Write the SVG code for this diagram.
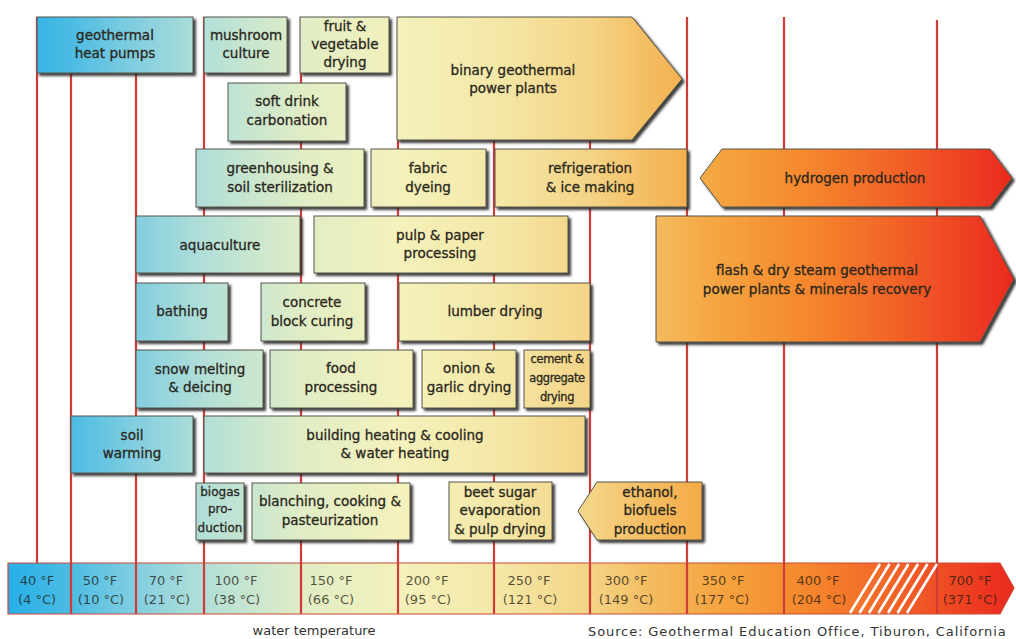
<svg xmlns="http://www.w3.org/2000/svg" width="1016" height="639" viewBox="0 0 1016 639">
<defs>
<linearGradient id="heat" gradientUnits="userSpaceOnUse" x1="8" y1="0" x2="1012" y2="0">
<stop offset="0" stop-color="#27afe8"/>
<stop offset="0.063" stop-color="#4cbce3"/>
<stop offset="0.127" stop-color="#82cee0"/>
<stop offset="0.195" stop-color="#b2dfd8"/>
<stop offset="0.292" stop-color="#e0edc6"/>
<stop offset="0.388" stop-color="#f4f1bc"/>
<stop offset="0.484" stop-color="#f4e8a8"/>
<stop offset="0.580" stop-color="#f4d486"/>
<stop offset="0.640" stop-color="#f4bc60"/>
<stop offset="0.709" stop-color="#f5a440"/>
<stop offset="0.789" stop-color="#f58a2e"/>
<stop offset="0.888" stop-color="#f26128"/>
<stop offset="1" stop-color="#ea2a1e"/>
</linearGradient>
<filter id="sh" x="-5%" y="-5%" width="115%" height="125%">
<feDropShadow dx="2.5" dy="2.5" stdDeviation="0.8" flood-color="#2b2b26" flood-opacity="0.9"/>
</filter>
</defs>
<style>
.box{fill:url(#heat);stroke:#55554a;stroke-width:1;filter:url(#sh);}
.t{font-family:"DejaVu Sans",sans-serif;font-size:13.5px;fill:#2a271c;stroke:#2a271c;stroke-width:0.3;text-anchor:middle;}
.s{font-size:12px;}
.xs{font-size:11.5px;letter-spacing:-0.4px;}
.vl{stroke:#cf3c38;stroke-width:2.2;fill:none;}
.bl{font-family:"DejaVu Sans",sans-serif;font-size:13px;fill:#1e1a10;fill-opacity:0.75;text-anchor:middle;}
.cap{font-family:"DejaVu Sans",sans-serif;font-size:13px;fill:#333;}
.hatch{stroke:#ffffff;stroke-width:2.6;}
</style>
<rect width="1016" height="639" fill="#ffffff"/>

<g id="temperature-lines">
<line class="vl" x1="37" y1="17" x2="37" y2="563"/>
<line class="vl" x1="71" y1="17" x2="71" y2="614"/>
<line class="vl" x1="136" y1="17" x2="136" y2="614"/>
<line class="vl" x1="204" y1="17" x2="204" y2="614"/>
<line class="vl" x1="301" y1="17" x2="301" y2="614"/>
<line class="vl" x1="398" y1="17" x2="398" y2="614"/>
<line class="vl" x1="494" y1="17" x2="494" y2="614"/>
<line class="vl" x1="590" y1="17" x2="590" y2="614"/>
<line class="vl" x1="687" y1="17" x2="687" y2="614"/>
<line class="vl" x1="784" y1="17" x2="784" y2="614"/>
<line class="vl" x1="937" y1="20" x2="937" y2="614"/>
</g>

<g id="temperature-bar">
<polygon points="8,563 1000,563 1014,588 1000,614 8,614" fill="url(#heat)" stroke="#cc4a36" stroke-width="1.2"/>
<line class="vl" x1="71" y1="563" x2="71" y2="614"/>
<line class="vl" x1="136" y1="563" x2="136" y2="614"/>
<line class="vl" x1="204" y1="563" x2="204" y2="614"/>
<line class="vl" x1="301" y1="563" x2="301" y2="614"/>
<line class="vl" x1="398" y1="563" x2="398" y2="614"/>
<line class="vl" x1="494" y1="563" x2="494" y2="614"/>
<line class="vl" x1="590" y1="563" x2="590" y2="614"/>
<line class="vl" x1="687" y1="563" x2="687" y2="614"/>
<line class="vl" x1="784" y1="563" x2="784" y2="614"/>
<line class="vl" x1="937" y1="563" x2="937" y2="614"/>
<g class="hatch">
<line x1="850" y1="613" x2="880" y2="564"/>
<line x1="859.5" y1="613" x2="889.5" y2="564"/>
<line x1="869" y1="613" x2="899" y2="564"/>
<line x1="878.5" y1="613" x2="908.5" y2="564"/>
<line x1="888" y1="613" x2="918" y2="564"/>
<line x1="897.5" y1="613" x2="927.5" y2="564"/>
<line x1="907" y1="613" x2="937" y2="564"/>
</g>
<text class="bl" x="37" y="585">40 °F</text><text class="bl" x="37" y="604">(4 °C)</text>
<text class="bl" x="100" y="585">50 °F</text><text class="bl" x="101" y="604">(10 °C)</text>
<text class="bl" x="166" y="585">70 °F</text><text class="bl" x="167" y="604">(21 °C)</text>
<text class="bl" x="236" y="585">100 °F</text><text class="bl" x="237" y="604">(38 °C)</text>
<text class="bl" x="331" y="585">150 °F</text><text class="bl" x="331" y="604">(66 °C)</text>
<text class="bl" x="427" y="585">200 °F</text><text class="bl" x="428" y="604">(95 °C)</text>
<text class="bl" x="529" y="585">250 °F</text><text class="bl" x="530" y="604">(121 °C)</text>
<text class="bl" x="626" y="585">300 °F</text><text class="bl" x="626" y="604">(149 °C)</text>
<text class="bl" x="723" y="585">350 °F</text><text class="bl" x="722" y="604">(177 °C)</text>
<text class="bl" x="818" y="585">400 °F</text><text class="bl" x="819" y="604">(204 °C)</text>
<text class="bl" x="970" y="585">700 °F</text><text class="bl" x="970" y="604">(371 °C)</text>
</g>

<g id="geothermal-heat-pumps"><rect class="box" x="37" y="17" width="156" height="56"/>
<text class="t" x="115" y="40">geothermal</text><text class="t" x="115" y="58">heat pumps</text></g>

<g id="mushroom-culture"><rect class="box" x="204" y="17" width="83" height="56"/>
<text class="t" x="246" y="40">mushroom</text><text class="t" x="246" y="58">culture</text></g>

<g id="fruit-vegetable-drying"><rect class="box" x="300" y="17" width="89" height="56"/>
<text class="t" x="345" y="31">fruit &amp;</text><text class="t" x="345" y="49">vegetable</text><text class="t" x="345" y="67">drying</text></g>

<g id="binary-power-plants"><polygon class="box" points="397,17 632,17 682,79 632,140 397,140"/>
<text class="t" x="513" y="75">binary geothermal</text><text class="t" x="513" y="93">power plants</text></g>

<g id="soft-drink-carbonation"><rect class="box" x="228" y="83" width="118" height="58"/>
<text class="t" x="287" y="106">soft drink</text><text class="t" x="287" y="125">carbonation</text></g>

<g id="greenhousing"><rect class="box" x="196" y="149" width="168" height="58"/>
<text class="t" x="280" y="173">greenhousing &amp;</text><text class="t" x="280" y="192">soil sterilization</text></g>

<g id="fabric-dyeing"><rect class="box" x="371" y="149" width="115" height="58"/>
<text class="t" x="428" y="173">fabric</text><text class="t" x="428" y="192">dyeing</text></g>

<g id="refrigeration"><rect class="box" x="495" y="149" width="192" height="58"/>
<text class="t" x="590" y="173">refrigeration</text><text class="t" x="590" y="192">&amp; ice making</text></g>

<g id="hydrogen-production"><polygon class="box" points="722,149 990,149 1012,178 990,207 722,207 700,178"/>
<text class="t" x="855" y="183">hydrogen production</text></g>

<g id="aquaculture"><rect class="box" x="136" y="216" width="164" height="57"/>
<text class="t" x="220" y="250">aquaculture</text></g>

<g id="pulp-paper"><rect class="box" x="314" y="216" width="254" height="57"/>
<text class="t" x="440" y="240">pulp &amp; paper</text><text class="t" x="440" y="258">processing</text></g>

<g id="flash-dry-steam"><polygon class="box" points="656,216 980,216 1014,279 980,342 656,342"/>
<text class="t" x="817" y="275">flash &amp; dry steam geothermal</text><text class="t" x="817" y="294">power plants &amp; minerals recovery</text></g>

<g id="bathing"><rect class="box" x="136" y="283" width="92" height="58"/>
<text class="t" x="182" y="316">bathing</text></g>

<g id="concrete-block-curing"><rect class="box" x="261" y="283" width="104" height="58"/>
<text class="t" x="312" y="307">concrete</text><text class="t" x="312" y="326">block curing</text></g>

<g id="lumber-drying"><rect class="box" x="399" y="283" width="191" height="58"/>
<text class="t" x="495" y="316">lumber drying</text></g>

<g id="snow-melting"><rect class="box" x="136" y="350" width="127" height="58"/>
<text class="t" x="200" y="374">snow melting</text><text class="t" x="200" y="392">&amp; deicing</text></g>

<g id="food-processing"><rect class="box" x="270" y="350" width="143" height="58"/>
<text class="t" x="341" y="373">food</text><text class="t" x="341" y="392">processing</text></g>

<g id="onion-garlic-drying"><rect class="box" x="422" y="350" width="94" height="58"/>
<text class="t" x="469" y="373">onion &amp;</text><text class="t" x="469" y="392">garlic drying</text></g>

<g id="cement-aggregate-drying"><rect class="box" x="524" y="350" width="66" height="58"/>
<text class="t xs" x="557" y="363">cement &amp;</text><text class="t xs" x="557" y="382">aggregate</text><text class="t xs" x="557" y="401">drying</text></g>

<g id="soil-warming"><rect class="box" x="71" y="416" width="122" height="57"/>
<text class="t" x="132" y="440">soil</text><text class="t" x="132" y="458">warming</text></g>

<g id="building-heating"><rect class="box" x="204" y="416" width="381" height="57"/>
<text class="t" x="395" y="440">building heating &amp; cooling</text><text class="t" x="395" y="458">&amp; water heating</text></g>

<g id="biogas-production"><rect class="box" x="196" y="483" width="48" height="57"/>
<text class="t s" x="220" y="496">biogas</text><text class="t s" x="220" y="513">pro-</text><text class="t s" x="220" y="532">duction</text></g>

<g id="blanching-cooking"><rect class="box" x="252" y="483" width="158" height="57"/>
<text class="t" x="330" y="506">blanching, cooking &amp;</text><text class="t" x="330" y="525">pasteurization</text></g>

<g id="beet-sugar"><rect class="box" x="449" y="482" width="103" height="58"/>
<text class="t" x="500" y="497">beet sugar</text><text class="t" x="500" y="515">evaporation</text><text class="t" x="500" y="534">&amp; pulp drying</text></g>

<g id="ethanol-biofuels"><polygon class="box" points="597,482 702,482 702,540 597,540 578,511"/>
<text class="t" x="650" y="497">ethanol,</text><text class="t" x="650" y="515">biofuels</text><text class="t" x="650" y="534">production</text></g>

<g id="captions">
<text class="cap" x="314" y="635" text-anchor="middle">water temperature</text>
<text class="cap" x="588" y="636" style="letter-spacing:0.9px">Source: Geothermal Education Office, Tiburon, California</text>
</g>
</svg>
